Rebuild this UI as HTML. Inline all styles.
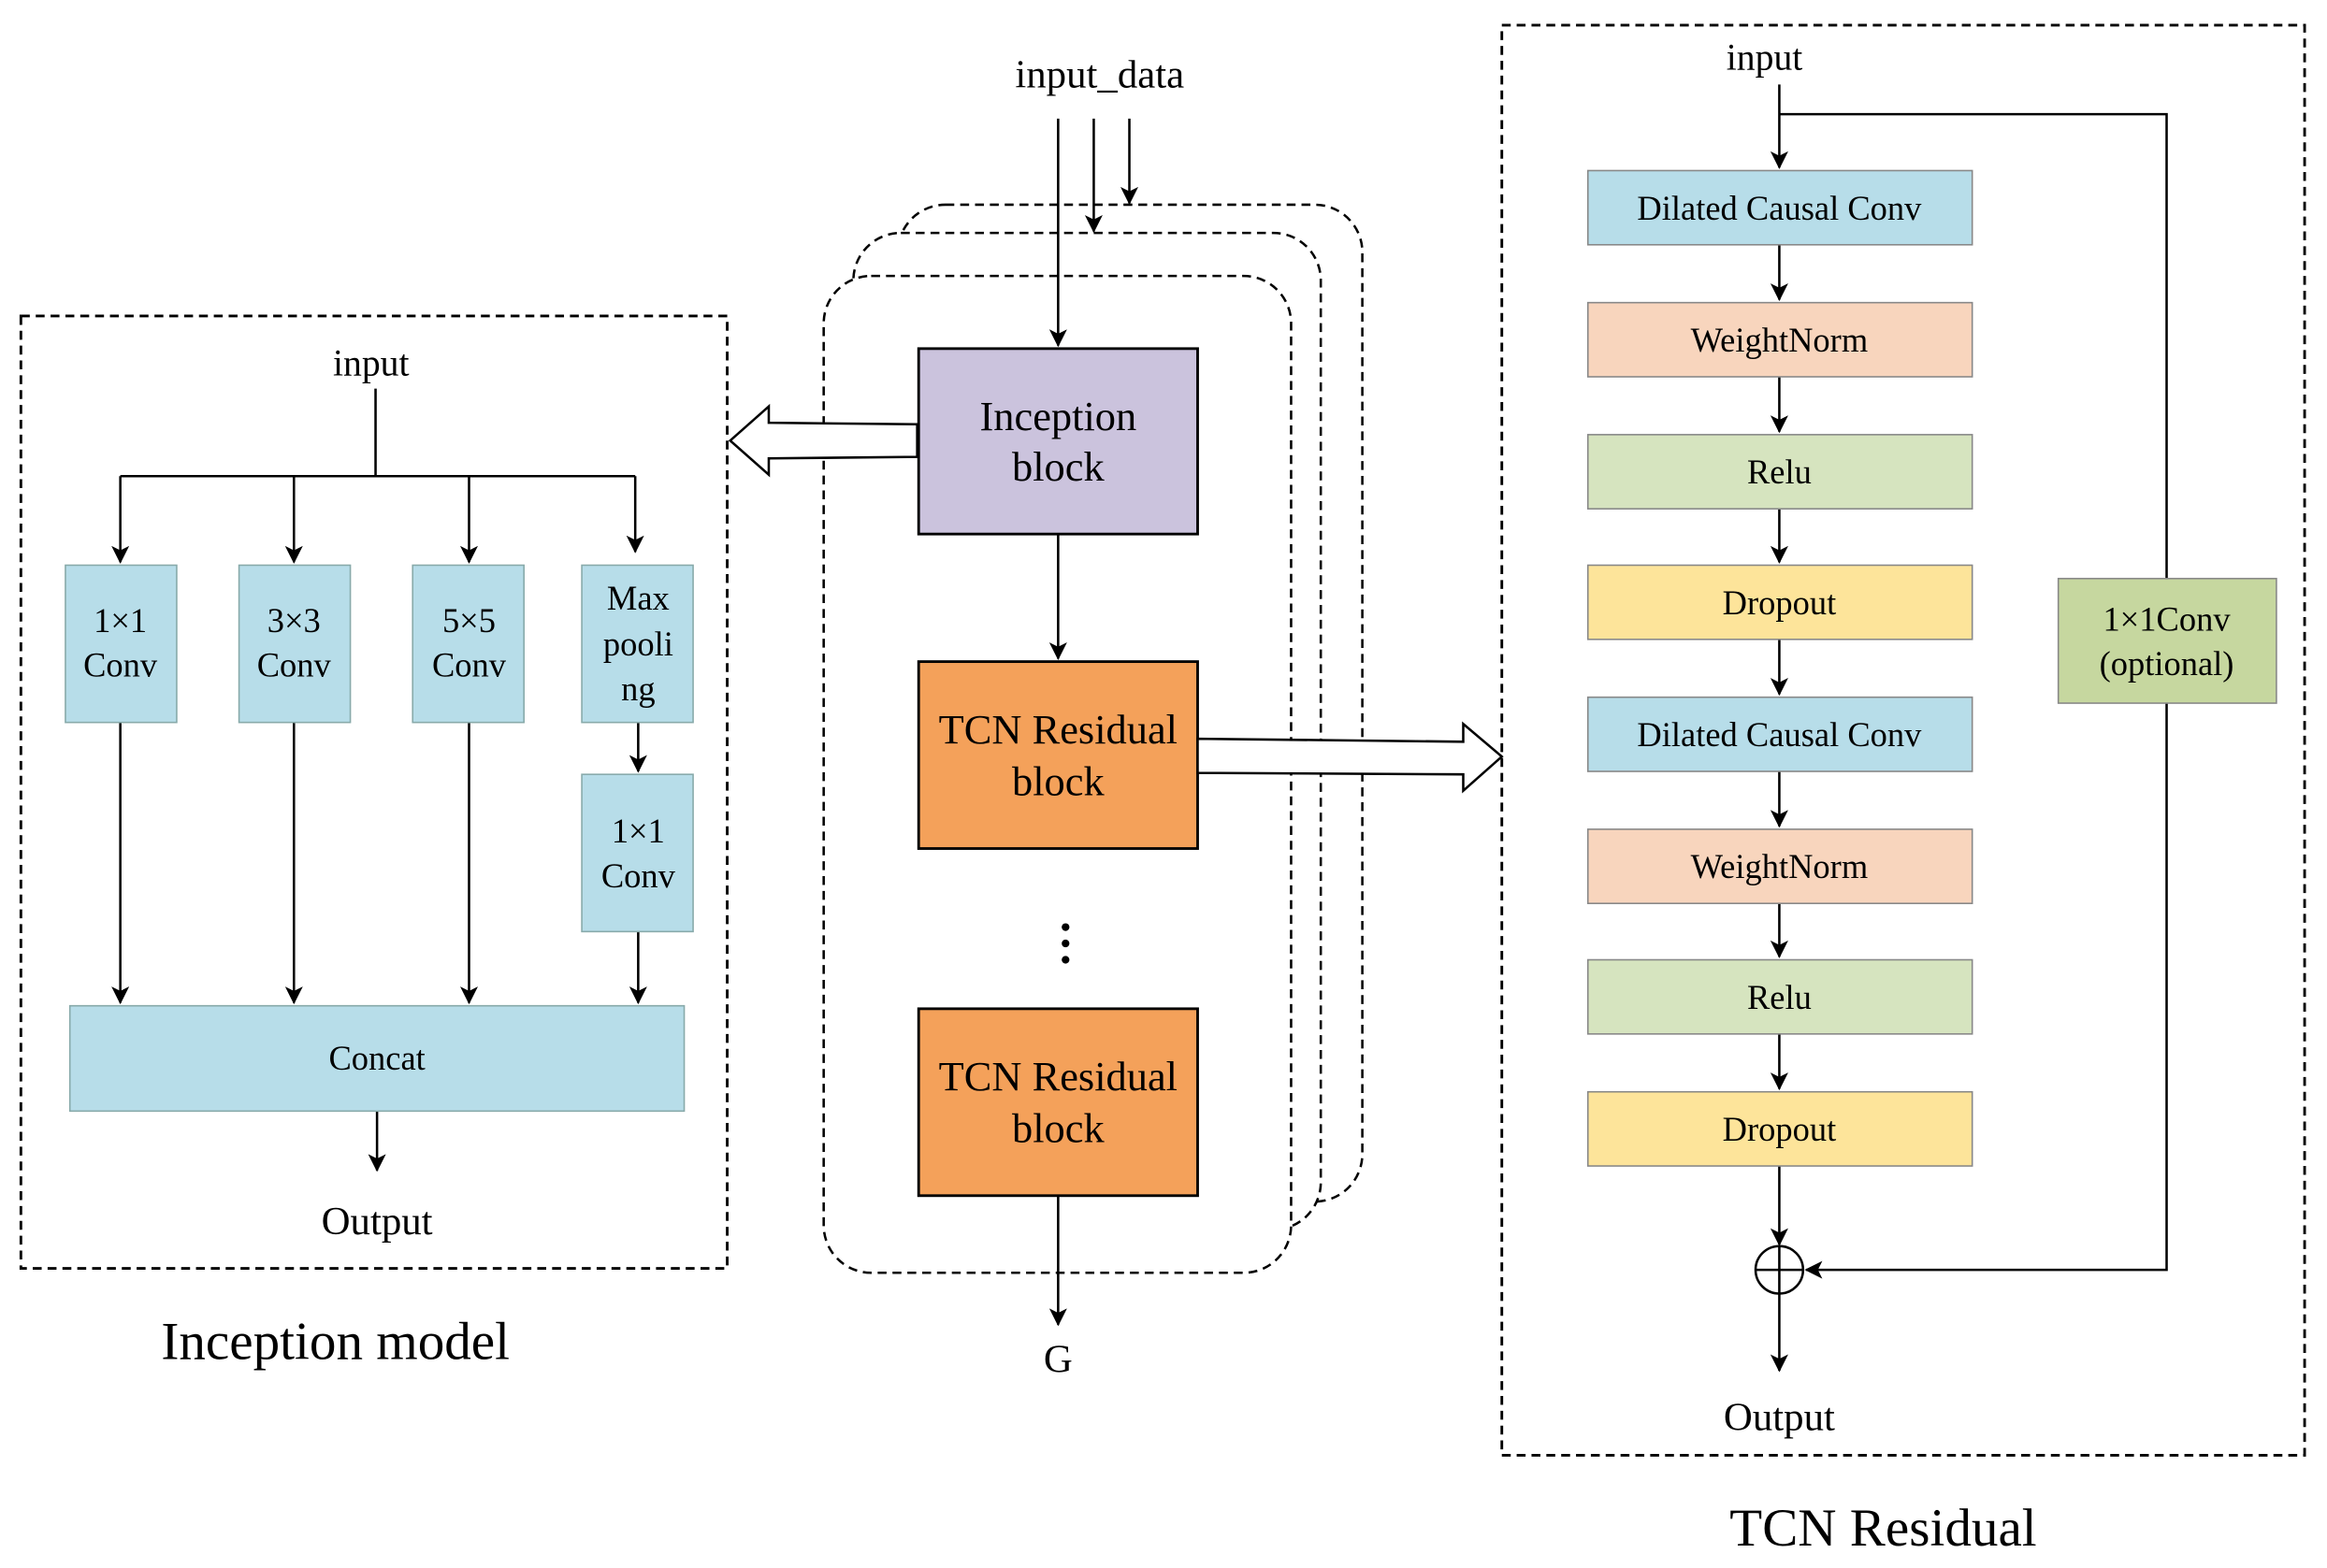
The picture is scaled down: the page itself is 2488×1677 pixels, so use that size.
<!DOCTYPE html>
<html><head><meta charset="utf-8"><style>html,body{margin:0;padding:0;background:#fff}svg{display:block}</style></head>
<body>
<svg width="2488" height="1677" viewBox="0 0 1568 1057" xmlns="http://www.w3.org/2000/svg" font-family="'Liberation Serif', serif">
<defs>
<marker id="a" markerWidth="12" markerHeight="12" refX="11" refY="6" orient="auto" markerUnits="userSpaceOnUse"><path d="M0,0 L12,6 L0,12 L3,6 Z" fill="#000"/></marker>
</defs>
<rect width="1568" height="1057" fill="#fff"/>
<!-- Left inception model -->
<rect x="14" y="213" width="476" height="642" fill="none" stroke="#000" stroke-width="1.8" stroke-dasharray="6,4"/>
<text x="250" y="253" font-size="25" text-anchor="middle">input</text>
<g stroke="#000" stroke-width="1.6" fill="none">
<path d="M253,262 V321 M81,321 H428"/>
<path d="M81,321 V379" marker-end="url(#a)"/>
<path d="M198,321 V379" marker-end="url(#a)"/>
<path d="M316,321 V379" marker-end="url(#a)"/>
<path d="M428,321 V372" marker-end="url(#a)"/>
<path d="M81,487 V676" marker-end="url(#a)"/>
<path d="M198,487 V676" marker-end="url(#a)"/>
<path d="M316,487 V676" marker-end="url(#a)"/>
<path d="M430,487 V520" marker-end="url(#a)"/>
<path d="M430,628 V676" marker-end="url(#a)"/>
<path d="M254,749 V789" marker-end="url(#a)"/>
</g>
<g fill="#b7dde9" stroke="#8aa" stroke-width="1">
<rect x="44" y="381" width="75" height="106"/>
<rect x="161" y="381" width="75" height="106"/>
<rect x="278" y="381" width="75" height="106"/>
<rect x="392" y="381" width="75" height="106"/>
<rect x="392" y="522" width="75" height="106"/>
<rect x="47" y="678" width="414" height="71"/>
</g>
<g font-size="23" text-anchor="middle">
<text x="81" y="426">1×1</text><text x="81" y="456">Conv</text>
<text x="198" y="426">3×3</text><text x="198" y="456">Conv</text>
<text x="316" y="426">5×5</text><text x="316" y="456">Conv</text>
<text x="430" y="411">Max</text><text x="430" y="442">pooli</text><text x="430" y="472">ng</text>
<text x="430" y="568">1×1</text><text x="430" y="598">Conv</text>
<text x="254" y="721">Concat</text>
</g>
<text x="254" y="832" font-size="27" text-anchor="middle">Output</text>
<text x="226" y="916" font-size="36" text-anchor="middle">Inception model</text>

<!-- Middle -->
<text x="741" y="59" font-size="27" text-anchor="middle">input_data</text>
<g fill="#fff" stroke="#000" stroke-width="1.6" stroke-dasharray="6,4">
<rect x="605" y="138" width="313" height="672" rx="32"/>
<rect x="575" y="157" width="315" height="672" rx="32"/>
<rect x="555" y="186" width="315" height="672" rx="32"/>
</g>
<g stroke="#000" stroke-width="1.6" fill="none">
<path d="M713,80 V233" marker-end="url(#a)"/>
<path d="M737,80 V156" marker-end="url(#a)"/>
<path d="M761,80 V137" marker-end="url(#a)"/>
<path d="M713,360 V444" marker-end="url(#a)"/>
<path d="M713,806 V893" marker-end="url(#a)"/>
</g>
<rect x="619" y="235" width="188" height="125" fill="#cbc3dd" stroke="#000" stroke-width="1.8"/>
<rect x="619" y="446" width="188" height="126" fill="#f4a15a" stroke="#000" stroke-width="1.8"/>
<rect x="619" y="680" width="188" height="126" fill="#f4a15a" stroke="#000" stroke-width="1.8"/>
<g font-size="28" text-anchor="middle">
<text x="713" y="290">Inception</text><text x="713" y="324">block</text>
<text x="713" y="501">TCN Residual</text><text x="713" y="536">block</text>
<text x="713" y="735">TCN Residual</text><text x="713" y="770">block</text>
</g>
<circle cx="718" cy="625" r="2.6"/><circle cx="718" cy="636" r="2.6"/><circle cx="718" cy="647" r="2.6"/>
<text x="713" y="925" font-size="27" text-anchor="middle">G</text>
<polygon points="618,286 518,285 518,274 492,297 518,320 518,309 618,308" fill="#fff" stroke="#000" stroke-width="1.6"/>
<polygon points="807,498 986,500 986,488 1012,510 986,533 986,522 807,521" fill="#fff" stroke="#000" stroke-width="1.6"/>

<!-- Right TCN residual -->
<rect x="1012" y="17" width="541" height="964" fill="none" stroke="#000" stroke-width="1.8" stroke-dasharray="6,4"/>
<text x="1189" y="47" font-size="25" text-anchor="middle">input</text>
<g stroke="#000" stroke-width="1.6" fill="none">
<path d="M1199,57 V113" marker-end="url(#a)"/>
<path d="M1199,77 H1460 V856 H1217" marker-end="url(#a)"/>
<path d="M1199,165 V202" marker-end="url(#a)"/>
<path d="M1199,254 V291" marker-end="url(#a)"/>
<path d="M1199,343 V379" marker-end="url(#a)"/>
<path d="M1199,431 V468" marker-end="url(#a)"/>
<path d="M1199,520 V557" marker-end="url(#a)"/>
<path d="M1199,609 V645" marker-end="url(#a)"/>
<path d="M1199,697 V734" marker-end="url(#a)"/>
<path d="M1199,786 V839" marker-end="url(#a)"/>
<path d="M1199,872 V924" marker-end="url(#a)"/>
<circle cx="1199" cy="856" r="16"/>
<path d="M1183,856 H1215 M1199,840 V872"/>
</g>
<g stroke="#888" stroke-width="1">
<rect x="1070" y="115" width="259" height="50" fill="#b7dde9"/>
<rect x="1070" y="204" width="259" height="50" fill="#f8d5bd"/>
<rect x="1070" y="293" width="259" height="50" fill="#d6e4bf"/>
<rect x="1070" y="381" width="259" height="50" fill="#fde49a"/>
<rect x="1070" y="470" width="259" height="50" fill="#b7dde9"/>
<rect x="1070" y="559" width="259" height="50" fill="#f8d5bd"/>
<rect x="1070" y="647" width="259" height="50" fill="#d6e4bf"/>
<rect x="1070" y="736" width="259" height="50" fill="#fde49a"/>
<rect x="1387" y="390" width="147" height="84" fill="#c6d79f"/>
</g>
<g font-size="23" text-anchor="middle">
<text x="1199" y="148">Dilated Causal Conv</text>
<text x="1199" y="237">WeightNorm</text>
<text x="1199" y="326">Relu</text>
<text x="1199" y="414">Dropout</text>
<text x="1199" y="503">Dilated Causal Conv</text>
<text x="1199" y="592">WeightNorm</text>
<text x="1199" y="680">Relu</text>
<text x="1199" y="769">Dropout</text>
<text x="1460" y="425">1×1Conv</text>
<text x="1460" y="455">(optional)</text>
</g>
<text x="1199" y="964" font-size="27" text-anchor="middle">Output</text>
<text x="1269" y="1042" font-size="36" text-anchor="middle">TCN Residual</text>
</svg>
</body></html>
